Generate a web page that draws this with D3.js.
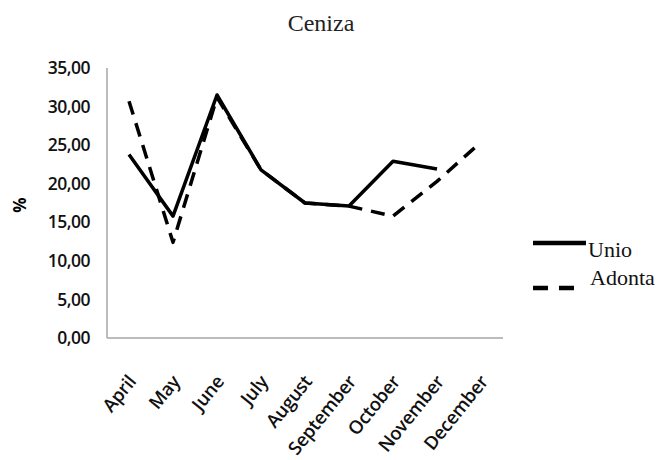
<!DOCTYPE html>
<html lang="en">
<head>
<meta charset="UTF-8">
<title>Ceniza</title>
<script src="https://d3js.org/d3.v7.min.js"></script>
<style>
body, html {
	margin: 0;
	padding: 0;
	background: white;
}
.title {
	font-family: "Liberation Serif";
	font-size: 24px;
	fill: #222;
	text-anchor: middle;
}
.axis path,
.axis line {
	stroke: #a6a6a6;
	stroke-width: 1.5px;
}
.axis .tick line {
	visibility: hidden;
}
.axis text {
	font-family: "Open Sans";
	font-weight: 600;
	fill: #111;
}
.yaxis text {
	font-size: 17.5px;
	letter-spacing: -0.5px;
}
.xaxis text {
	font-size: 18.5px;
	letter-spacing: -0.3px;
}
.series {
	fill: none;
	stroke: #000;
	stroke-width: 3.5px;
	stroke-linejoin: round;
}
.legend text {
	font-family: "Liberation Serif";
	font-size: 22px;
	fill: #111;
}
</style>
</head>
<body>
<script>
var months = ["April", "May", "June", "July", "August", "September", "October", "November", "December"];
var unio = [23.8, 15.8, 31.5, 21.8, 17.5, 17.1, 22.9, 21.9, null];
var adonta = [30.7, 12.4, 31.2, 21.8, 17.5, 17.1, 15.8, 20.3, 25.4];
var yTicks = [0, 5, 10, 15, 20, 25, 30, 35];
var seriesNames = ["Unio", "Adonta"];

var w = 672;
var h = 460;
var margin = {top: 68, bottom: 122, left: 107, right: 169};
var width = w - margin.left - margin.right;
var height = h - margin.top - margin.bottom;

var svg = d3.select("body").append("svg")
	.attr("width", w)
	.attr("height", h);

svg.append("text")
	.classed("title", true)
	.attr("x", 321)
	.attr("y", 31)
	.text("Ceniza");

var chart = svg.append("g")
	.attr("transform", "translate(" + margin.left + "," + margin.top + ")");

var x = d3.scaleBand()
	.domain(months)
	.range([0, width]);

var y = d3.scaleLinear()
	.domain([0, 35])
	.range([height, 0]);

var fmt = function(d){ return d3.format(".2f")(d).replace(".", ","); };

chart.append("g")
	.classed("axis yaxis", true)
	.call(d3.axisLeft(y).tickValues(yTicks).tickFormat(fmt).tickSize(0).tickPadding(17))
	.select(".domain").attr("d", "M0,0V" + height);

var xAxis = chart.append("g")
	.classed("axis xaxis", true)
	.attr("transform", "translate(0," + height + ")")
	.call(d3.axisBottom(x).tickSize(0).tickPadding(0));

xAxis.select(".domain").attr("d", "M0,0H" + width);

xAxis.selectAll("text")
	.attr("y", 0)
	.attr("dy", 0)
	.style("text-anchor", "end")
	.attr("transform", "translate(8,44) rotate(-51)");

svg.append("text")
	.attr("transform", "translate(26,205) rotate(-90)")
	.style("text-anchor", "middle")
	.style("font-family", "Open Sans")
	.style("font-weight", "700")
	.style("font-size", "17px")
	.text("%");

var line = d3.line()
	.defined(function(d){ return d != null; })
	.x(function(d, i){ return x(months[i]) + x.bandwidth() / 2; })
	.y(function(d){ return y(d); });

chart.append("path")
	.datum(adonta)
	.classed("series", true)
	.attr("stroke-dasharray", "14,9")
	.attr("d", line);

chart.append("path")
	.datum(unio)
	.classed("series", true)
	.attr("d", line);

// legend
var legend = svg.append("g").classed("legend", true);

legend.selectAll(".key")
	.data(seriesNames)
	.enter()
		.append("line")
		.attr("x1", 533)
		.attr("x2", function(d, i){ return i == 0 ? 586 : 575; })
		.attr("y1", function(d, i){ return 243 + i * 45; })
		.attr("y2", function(d, i){ return 243 + i * 45; })
		.attr("stroke", "#000")
		.attr("stroke-width", 4.5)
		.attr("stroke-dasharray", function(d, i){ return i == 0 ? null : "15,11"; });

legend.selectAll(".lbl")
	.data(seriesNames)
	.enter()
		.append("text")
		.attr("x", function(d, i){ return i == 0 ? 588 : 590; })
		.attr("y", function(d, i){ return 257 + i * 28; })
		.text(function(d){ return d; });
</script>
</body>
</html>
